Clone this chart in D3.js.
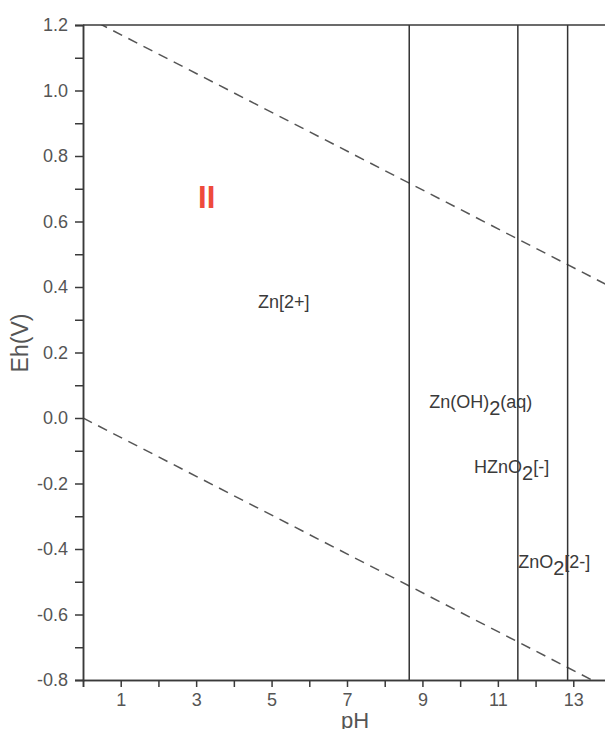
<!DOCTYPE html>
<html>
<head>
<meta charset="utf-8">
<script src="https://cdn.jsdelivr.net/npm/d3@7"></script>
<style>
  body { margin: 0; background: #fff; }
  text { font-family: "Liberation Sans", Arial, sans-serif; }
</style>
</head>
<body>
<div id="chart"></div>
<script>
var width = 605;
var height = 729;

// boundaries
var boundaryPH = [8.65, 11.53, 12.85];
var upperWaterPH = [0, 14];
var upperWaterEh = [1.23, 0.40];
var lowerWaterPH = [0, 14];
var lowerWaterEh = [0.0, -0.83];

// species labels: [text, subscript, rest, pH, Eh]
var speciesText = ["Zn[2+]", "Zn(OH)", "HZnO", "ZnO"];
var speciesSub = ["", "2", "2", "2"];
var speciesRest = ["", "(aq)", "[-]", "[2-]"];
var speciesPH = [4.64, 9.18, 10.37, 11.54];
var speciesEh = [0.355, 0.05, -0.149, -0.439];

var xMajor = [1, 3, 5, 7, 9, 11, 13];
var xMinor = [2, 4, 6, 8, 10, 12];
var yMajor = [1.2, 1.0, 0.8, 0.6, 0.4, 0.2, 0.0, -0.2, -0.4, -0.6, -0.8];
var yMinor = [1.1, 0.9, 0.7, 0.5, 0.3, 0.1, -0.1, -0.3, -0.5, -0.7];

var margin = { left: 83, top: 25 };
var plotW = 528;
var plotH = 655;

var x = d3.scaleLinear().domain([0, 14]).range([0, plotW]);
var y = d3.scaleLinear().domain([-0.8, 1.2]).range([plotH, 0]);

var svg = d3
  .select("#chart")
  .append("svg")
  .attr("width", width)
  .attr("height", height);

var g = svg.append("g").attr("transform", "translate(" + margin.left + "," + margin.top + ")");

g.append("clipPath")
  .attr("id", "plotclip")
  .append("rect")
  .attr("width", plotW)
  .attr("height", plotH);

var axisColor = "#3a3a3a";
var labelColor = "#555";

// water stability lines (dashed)
var line = d3.line().x(function(d) { return x(d[0]); }).y(function(d) { return y(d[1]); });
var water = [
  d3.zip(upperWaterPH, upperWaterEh),
  d3.zip(lowerWaterPH, lowerWaterEh)
];
g.append("g")
  .attr("clip-path", "url(#plotclip)")
  .selectAll("path")
  .data(water)
  .enter()
  .append("path")
  .attr("d", line)
  .attr("fill", "none")
  .attr("stroke", "#555")
  .attr("stroke-width", 1.5)
  .attr("stroke-dasharray", "10,7");

// species boundaries
g.selectAll(".bound")
  .data(boundaryPH)
  .enter()
  .append("line")
  .attr("class", "bound")
  .attr("x1", function(d) { return x(d); })
  .attr("x2", function(d) { return x(d); })
  .attr("y1", 0)
  .attr("y2", plotH)
  .attr("stroke", "#333")
  .attr("stroke-width", 1.5);

// top frame line
g.append("line")
  .attr("x1", 0).attr("x2", plotW)
  .attr("y1", 0).attr("y2", 0)
  .attr("stroke", axisColor)
  .attr("stroke-width", 1.5);

function styleAxis(sel) {
  sel.select(".domain").attr("stroke", axisColor).attr("stroke-width", 1.5);
  sel.selectAll(".tick line").attr("stroke", axisColor).attr("stroke-width", 1.5);
  sel.selectAll(".tick text")
    .attr("fill", labelColor)
    .style("font-size", "18px");
}

// plain hyphen for negatives, as in the original
function fmtEh(d) {
  return d3.format(".1f")(d).replace("\u2212", "-");
}

// x axis
var xAxisMinor = g.append("g")
  .attr("transform", "translate(0," + plotH + ")")
  .call(d3.axisBottom(x).tickValues(xMinor).tickSize(7).tickFormat(""));
styleAxis(xAxisMinor);
var xAxis = g.append("g")
  .attr("transform", "translate(0," + plotH + ")")
  .call(d3.axisBottom(x).tickValues(xMajor).tickSize(7).tickPadding(6).tickFormat(d3.format("d")));
styleAxis(xAxis);

// y axis
var yAxisMinor = g.append("g")
  .call(d3.axisLeft(y).tickValues(yMinor).tickSize(8).tickFormat(""));
styleAxis(yAxisMinor);
var yAxis = g.append("g")
  .call(d3.axisLeft(y).tickValues(yMajor).tickSize(8).tickPadding(7).tickFormat(fmtEh));
styleAxis(yAxis);

// axis titles
svg.append("text")
  .attr("x", 355)
  .attr("y", 728)
  .attr("text-anchor", "middle")
  .attr("fill", labelColor)
  .style("font-size", "22px")
  .text("pH");

svg.append("text")
  .attr("transform", "translate(28,343) rotate(-90)")
  .attr("text-anchor", "middle")
  .attr("fill", labelColor)
  .style("font-size", "23px")
  .text("Eh(V)");

// species labels
var lab = g.selectAll(".species")
  .data(speciesText)
  .enter()
  .append("text")
  .attr("class", "species")
  .attr("x", function(d, i) { return x(speciesPH[i]); })
  .attr("y", function(d, i) { return y(speciesEh[i]); })
  .attr("dy", "0.35em")
  .attr("fill", "#3a3a3a")
  .style("font-size", "18px");
lab.append("tspan").text(function(d) { return d; });
lab.append("tspan")
  .attr("dy", 7)
  .style("font-size", "20px")
  .text(function(d, i) { return speciesSub[i]; });
lab.append("tspan")
  .attr("dy", function(d, i) { return speciesSub[i] ? -7 : 0; })
  .text(function(d, i) { return speciesRest[i]; });

// region marker
g.append("text")
  .attr("x", x(3.28))
  .attr("y", y(0.675))
  .attr("text-anchor", "middle")
  .attr("dy", "0.35em")
  .attr("fill", "#ee4a3c")
  .style("font-size", "31px")
  .style("font-weight", "bold")
  .text("II");
</script>
</body>
</html>
